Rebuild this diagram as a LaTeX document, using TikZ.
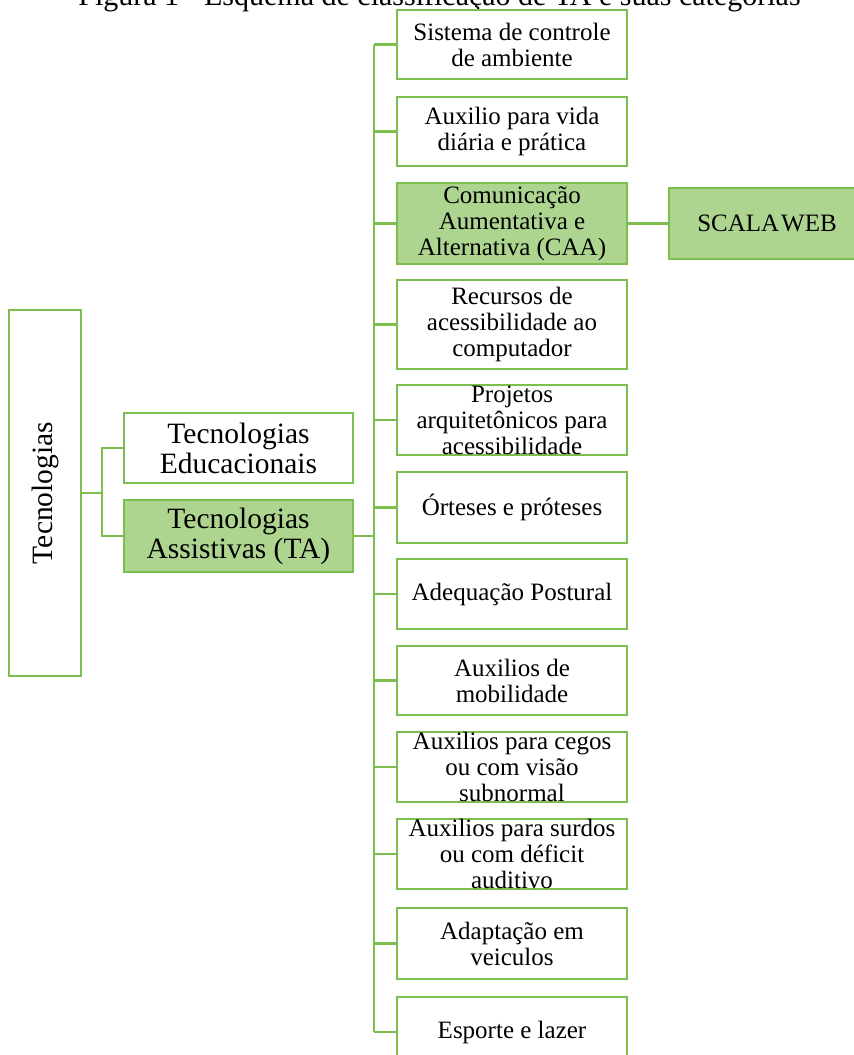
\documentclass[tikz,border=0pt]{standalone}
\usepackage{fontspec}
\setmainfont{Liberation Serif}
\definecolor{gline}{HTML}{7DBE50}
\definecolor{gfill}{HTML}{ADD590}
\tikzset{
  x=1pt, y=-1pt,
  conn/.style={draw=gline, line width=2.4},
  rbox/.style={draw=gline, line width=1.8, fill=white, minimum width=230, inner sep=0, outer sep=0},
  lbox/.style={draw=gline, line width=1.8, fill=white, minimum width=229, inner sep=0, outer sep=0},
  hl/.style={fill=gfill},
  rtext/.style={font=\fontsize{25}{26}\selectfont, align=center, inner sep=0},
  ltext/.style={font=\fontsize{29.5}{30}\selectfont, align=center, inner sep=0},
}
\begin{document}
\begin{tikzpicture}
\useasboundingbox (0,0) rectangle (854,1055);
\clip (0,0) rectangle (854,1055);
\fill[white] (0,0) rectangle (854,1055);

% title (cut at the top, as in the reference)
\node[anchor=base, inner sep=0, font=\fontsize{30}{32}\selectfont] (title) at (439.5,5) {Figura 1 - Esquema de classificação de TA e suas categorias};

% left part
\node[draw=gline, line width=1.8, fill=white, minimum width=72, minimum height=366, inner sep=0, outer sep=0,
      label={[ltext, rotate=90, yshift=0, xshift=0]center:Tecnologias}] (tec) at (45,493) {};
\node[lbox, minimum height=70, label={[ltext]center:Tecnologias\\Educacionais}] (edu) at (238.5,448) {};
\node[lbox, hl, minimum height=72, label={[ltext]center:Tecnologias\\Assistivas (TA)}] (ast) at (238.5,536) {};

% right column
\node[rbox, minimum height=69, label={[rtext]center:Sistema de controle\\de ambiente}] (r1) at (512,44.5) {};
\node[rbox, minimum height=69, label={[rtext]center:Auxilio para vida\\diária e prática}] (r2) at (512,131.5) {};
\node[rbox, hl, minimum height=81, label={[rtext]center:Comunicação\\Aumentativa e\\Alternativa (CAA)}] (r3) at (512,223.5) {};
\node[rbox, minimum height=89, label={[rtext]center:Recursos de\\acessibilidade ao\\computador}] (r4) at (512,324.5) {};
\node[rbox, minimum height=70, label={[rtext]center:Projetos\\arquitetônicos para\\acessibilidade}] (r5) at (512,420) {};
\node[rbox, minimum height=71, label={[rtext]center:Órteses e próteses}] (r6) at (512,507.5) {};
\node[rbox, minimum height=70, label={[rtext]center:Adequação Postural}] (r7) at (512,594) {};
\node[rbox, minimum height=69, label={[rtext]center:Auxilios de\\mobilidade}] (r8) at (512,680.5) {};
\node[rbox, minimum height=70, label={[rtext]center:Auxilios para cegos\\ou com visão\\subnormal}] (r9) at (512,767) {};
\node[rbox, minimum height=70, label={[rtext]center:Auxilios para surdos\\ou com déficit\\auditivo}] (r10) at (512,854) {};
\node[rbox, minimum height=71, label={[rtext]center:Adaptação em\\veiculos}] (r11) at (512,943.5) {};
\node[rbox, minimum height=70, label={[rtext]center:Esporte e lazer}] (r12) at (512,1032) {};

% SCALA WEB
\node[draw=gline, line width=1.8, hl, minimum width=190, minimum height=71, inner sep=0, outer sep=0,
      label={[rtext, xshift=3]center:SCALA\hspace{2pt}WEB}] (scala) at (764,223.5) {};

% connectors
\coordinate (j1) at (102,493);
\coordinate (tr) at (374,0);
\draw[conn] (tec.east) -- (j1);
\draw[conn] (edu.west) -| (j1) |- (ast.west);
\draw[conn] (ast.east) -- (ast.east -| tr);
\draw[conn] (tr |- r1.west) -- (tr |- r12.west);
\foreach \b in {r1,r2,r3,r4,r5,r6,r7,r8,r9,r10,r11,r12}
  \draw[conn] (tr |- \b.west) -- (\b.west);
\draw[conn] (r3.east) -- (scala.west);
\end{tikzpicture}
\end{document}
